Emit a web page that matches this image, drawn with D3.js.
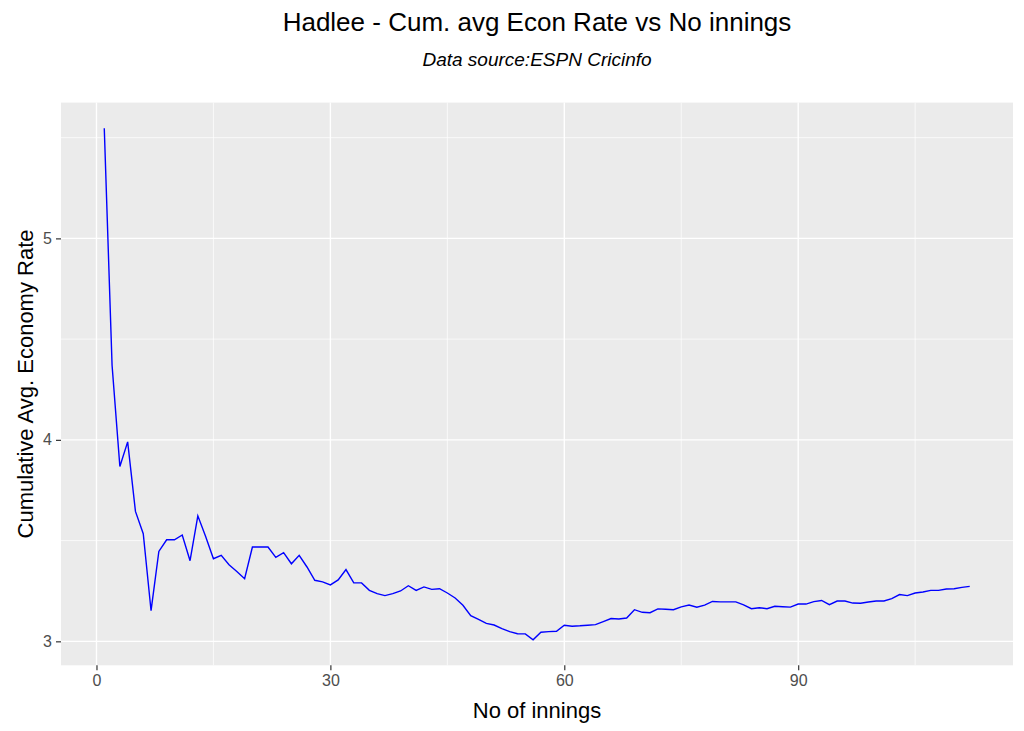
<!DOCTYPE html>
<html><head><meta charset="utf-8">
<script src="https://cdn.jsdelivr.net/npm/d3@7"></script>
<style>body{margin:0;background:#fff}svg{display:block}text{font-family:"Liberation Sans",Arial,sans-serif}</style>
</head><body><svg id="c" width="1024" height="731"></svg>
<script>
const innings = d3.range(1, 113);
const econRate = [5.547,4.37,3.868,3.99,3.645,3.534,3.152,3.446,3.504,3.504,
3.528,3.40,3.623,3.52,3.41,3.427,3.38,3.347,3.311,3.468,
3.468,3.468,3.417,3.44,3.385,3.427,3.369,3.303,3.295,3.28,
3.305,3.356,3.29,3.29,3.253,3.237,3.227,3.237,3.25,3.276,
3.253,3.27,3.258,3.261,3.24,3.215,3.179,3.127,3.109,3.089,
3.081,3.063,3.048,3.038,3.037,3.008,3.045,3.048,3.05,3.08,
3.075,3.077,3.08,3.083,3.098,3.113,3.111,3.116,3.157,3.144,
3.142,3.161,3.159,3.157,3.171,3.18,3.169,3.18,3.198,3.196,
3.196,3.196,3.181,3.162,3.167,3.162,3.174,3.172,3.17,3.185,
3.185,3.197,3.203,3.182,3.2,3.2,3.19,3.189,3.195,3.2,
3.2,3.212,3.232,3.227,3.24,3.245,3.253,3.253,3.26,3.261,
3.268,3.273];
const xTicks = [0,30,60,90];
const yTicks = [3,4,5];

const svg = d3.select("#c");
const L=61, R=1013, T=102.6, B=665.3;
const xmin=d3.min(innings), xmax=d3.max(innings), xr=xmax-xmin;
const ymin=d3.min(econRate), ymax=d3.max(econRate), yr=ymax-ymin;
const x = d3.scaleLinear().domain([xmin-0.05*xr, xmax+0.05*xr]).range([L,R]);
const y = d3.scaleLinear().domain([ymin-0.05*yr, ymax+0.05*yr]).range([B,T]);

svg.append("rect").attr("x",L).attr("y",T).attr("width",R-L).attr("height",B-T).attr("fill","#ebebeb");
const xMinor = [15,45,75,105], yMinor=[3.5,4.5,5.5];
const g = svg.append("g");
g.selectAll(".xm").data(xMinor).join("line").attr("x1",d=>x(d)).attr("x2",d=>x(d)).attr("y1",T).attr("y2",B).attr("stroke","#fff").attr("stroke-width",0.7);
g.selectAll(".ym").data(yMinor).join("line").attr("y1",d=>y(d)).attr("y2",d=>y(d)).attr("x1",L).attr("x2",R).attr("stroke","#fff").attr("stroke-width",0.7);
g.selectAll(".xM").data(xTicks).join("line").attr("x1",d=>x(d)).attr("x2",d=>x(d)).attr("y1",T).attr("y2",B).attr("stroke","#fff").attr("stroke-width",1.4);
g.selectAll(".yM").data(yTicks).join("line").attr("y1",d=>y(d)).attr("y2",d=>y(d)).attr("x1",L).attr("x2",R).attr("stroke","#fff").attr("stroke-width",1.4);

const line = d3.line().x((d,i)=>x(innings[i])).y(d=>y(d));
svg.append("path").datum(econRate).attr("d",line).attr("fill","none").attr("stroke","#0000ff").attr("stroke-width",1.4);

const xa = svg.append("g").attr("transform",`translate(0,${B})`).call(d3.axisBottom(x).tickValues(xTicks).tickFormat(d3.format("d")).tickSize(5).tickPadding(4));
const ya = svg.append("g").attr("transform",`translate(${L},0)`).call(d3.axisLeft(y).tickValues(yTicks).tickFormat(d3.format("d")).tickSize(5).tickPadding(4));
[xa,ya].forEach(a=>{a.select(".domain").remove();a.selectAll(".tick line").attr("stroke","#333").attr("stroke-width",1.2);a.selectAll("text").attr("fill","#4d4d4d").style("font-size","16px");});

svg.append("text").attr("x",(L+R)/2).attr("y",31).attr("text-anchor","middle").style("font-size","26px").attr("fill","#000").text("Hadlee - Cum. avg Econ Rate vs No innings");
svg.append("text").attr("x",(L+R)/2).attr("y",66).attr("text-anchor","middle").style("font-size","19px").style("font-style","italic").attr("fill","#000").text("Data source:ESPN Cricinfo");
svg.append("text").attr("x",(L+R)/2).attr("y",718).attr("text-anchor","middle").style("font-size","22px").attr("fill","#000").text("No of innings");
svg.append("text").attr("transform",`translate(33,${(T+B)/2}) rotate(-90)`).attr("text-anchor","middle").style("font-size","22px").attr("fill","#000").text("Cumulative Avg. Economy Rate");
</script></body></html>
